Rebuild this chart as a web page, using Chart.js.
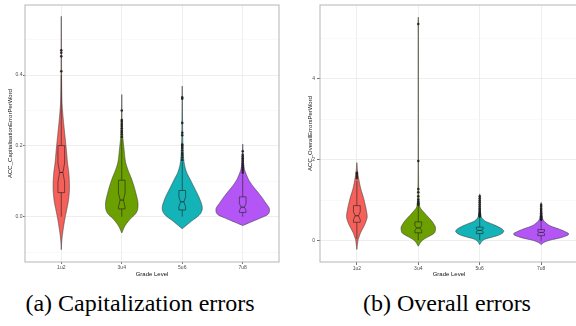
<!DOCTYPE html>
<html>
<head>
<meta charset="utf-8">
<script src="https://cdn.jsdelivr.net/npm/chart.js@4.4.1/dist/chart.umd.min.js"></script>
<style>
  html, body { margin: 0; padding: 0; background: #fff; }
  body { width: 576px; height: 326px; position: relative; overflow: hidden; }
  .panel { position: absolute; top: 0; height: 282px; overflow: hidden; }
  #wrapA { left: 0; width: 290px; }
  #wrapB { left: 290px; width: 286px; }
  .caption {
    position: absolute; top: 290px; white-space: nowrap;
    font-family: 'Liberation Serif', 'Times New Roman', Times, serif;
    font-size: 24px; color: #000; transform: translateX(-50%);
  }
</style>
</head>
<body>
<div class="panel" id="wrapA"><canvas id="capChart" width="290" height="282"></canvas></div>
<div class="panel" id="wrapB"><canvas id="allChart" width="300" height="282"></canvas></div>
<div class="caption" style="left:140px; font-family:'Liberation Serif', serif">(a) Capitalization errors</div>
<div class="caption" style="left:447px; font-family:'Liberation Serif', serif">(b) Overall errors</div>

<script>
// ---- shared ----
const grades = ['1u2', '3u4', '5u6', '7u8'];
const fillColours = ['#F5605A', '#6C9F00', '#13B3B7', '#B456F6'];

// ---- (a) capitalisation errors per word ----
// violin outline: value levels and half-widths (fraction of one category)
const capDensityY = [
  [0.566, 0.45, 0.33, 0.29, 0.237, 0.19, 0.15, 0.124, 0.085, 0.048, 0.02, 0.0, -0.037, -0.065, -0.093],
  [0.345, 0.27, 0.226, 0.19, 0.152, 0.13, 0.105, 0.068, 0.034, 0.011, -0.008, -0.027, -0.046],
  [0.369, 0.3, 0.2, 0.161, 0.14, 0.123, 0.105, 0.086, 0.048, 0.024, 0.006, -0.013, -0.027, -0.034],
  [0.205, 0.17, 0.133, 0.12, 0.105, 0.085, 0.067, 0.039, 0.02, 0.006, -0.004, -0.016, -0.025]
];
const capDensityW = [
  [0, 0.004, 0.01, 0.025, 0.055, 0.083, 0.104, 0.124, 0.135, 0.12, 0.09, 0.066, 0.03, 0.01, 0],
  [0, 0.006, 0.017, 0.038, 0.066, 0.107, 0.165, 0.231, 0.269, 0.24, 0.132, 0.05, 0],
  [0, 0.004, 0.012, 0.025, 0.046, 0.078, 0.132, 0.187, 0.294, 0.331, 0.289, 0.149, 0.05, 0],
  [0, 0.008, 0.03, 0.058, 0.096, 0.174, 0.261, 0.38, 0.443, 0.413, 0.289, 0.124, 0]
];
const capQ1 = [0.068, 0.022, 0.019, 0.012];
const capMedian = [0.125, 0.047, 0.042, 0.027];
const capQ3 = [0.201, 0.103, 0.074, 0.056];
const capWhiskerLow = [0.0, 0.0, 0.0, 0.0];
const capWhiskerHigh = [0.40, 0.22, 0.155, 0.12];
const capNotch = [0.027, 0.02, 0.014, 0.01];
const capOutliers = [
  [0.411, 0.453, 0.463, 0.47],
  [0.225, 0.232, 0.238, 0.243, 0.25, 0.256, 0.262, 0.268, 0.273, 0.30],
  [0.16, 0.167, 0.174, 0.18, 0.187, 0.194, 0.2, 0.204, 0.23, 0.237, 0.265, 0.333, 0.337],
  [0.124, 0.13, 0.135, 0.14, 0.145, 0.15, 0.155, 0.16, 0.165, 0.17, 0.175, 0.185]
];
const capTicks = [-0.1, 0.0, 0.1, 0.2, 0.3, 0.4, 0.5];

// ---- (b) overall errors per word ----
const allDensityY = [
  [1.93, 1.7, 1.51, 1.26, 1.1, 0.93, 0.75, 0.6, 0.5, 0.4, 0.3, 0.2, 0.1, 0.05, -0.08, -0.21],
  [5.52, 5.4, 5.3, 4.5, 3.0, 2.0, 1.3, 0.85, 0.69, 0.6, 0.52, 0.42, 0.32, 0.2, 0.13, 0.07, 0.0, -0.13],
  [1.16, 0.9, 0.6, 0.54, 0.48, 0.42, 0.36, 0.3, 0.24, 0.18, 0.13, 0.09, 0.05, 0.0, -0.09],
  [0.95, 0.7, 0.52, 0.44, 0.36, 0.3, 0.24, 0.17, 0.09, 0.01, -0.04, -0.09]
];
const allDensityW = [
  [0, 0.013, 0.033, 0.068, 0.101, 0.13, 0.155, 0.168, 0.153, 0.127, 0.094, 0.06, 0.036, 0.024, 0.01, 0],
  [0, 0.004, 0.003, 0.002, 0.002, 0.003, 0.006, 0.024, 0.101, 0.155, 0.204, 0.252, 0.28, 0.264, 0.195, 0.122, 0.057, 0],
  [0, 0.008, 0.024, 0.049, 0.098, 0.195, 0.285, 0.358, 0.391, 0.358, 0.285, 0.195, 0.098, 0.041, 0],
  [0, 0.01, 0.033, 0.081, 0.163, 0.277, 0.375, 0.448, 0.342, 0.122, 0.041, 0]
];
const allQ1 = [0.46, 0.20, 0.18, 0.13];
const allMedian = [0.62, 0.32, 0.26, 0.21];
const allQ3 = [0.87, 0.47, 0.34, 0.28];
const allWhiskerLow = [0.05, 0.02, 0.02, 0.0];
const allWhiskerHigh = [1.48, 0.86, 0.58, 0.50];
const allNotch = [0.1, 0.06, 0.03, 0.025];
const allOutliers = [
  [1.55, 1.6, 1.65, 1.68],
  [0.89, 0.93, 0.97, 1.02, 1.1, 1.2, 1.28, 1.97, 5.35],
  [0.6, 0.63, 0.66, 0.69, 0.72, 0.76, 0.8, 0.85, 0.9, 0.95, 1.0, 1.05, 1.1],
  [0.52, 0.55, 0.58, 0.61, 0.64, 0.68, 0.72, 0.76, 0.8, 0.85, 0.89]
];
const allTicks = [0, 1, 2, 3, 4, 5];

// ---- drawing helpers ----
// monotone cubic (Fritsch-Carlson) through (t, w) pairs, t increasing; returns sampled points
function monotoneSamples(t, w, step) {
  const n = t.length, m = [], d = [];
  for (let i = 0; i < n - 1; i++) d.push((w[i + 1] - w[i]) / (t[i + 1] - t[i]));
  m[0] = d[0]; m[n - 1] = d[n - 2];
  for (let i = 1; i < n - 1; i++) m[i] = (d[i - 1] * d[i] <= 0) ? 0 : (d[i - 1] + d[i]) / 2;
  for (let i = 0; i < n - 1; i++) {
    if (d[i] === 0) { m[i] = 0; m[i + 1] = 0; continue; }
    const a = m[i] / d[i], b = m[i + 1] / d[i], h = a * a + b * b;
    if (h > 9) { const s = 3 / Math.sqrt(h); m[i] = s * a * d[i]; m[i + 1] = s * b * d[i]; }
  }
  const out = [];
  for (let i = 0; i < n - 1; i++) {
    const h = t[i + 1] - t[i], k = Math.max(1, Math.ceil(h / step));
    for (let j = 0; j < k; j++) {
      const s = j / k, s2 = s * s, s3 = s2 * s;
      const val = (2 * s3 - 3 * s2 + 1) * w[i] + (s3 - 2 * s2 + s) * h * m[i] +
                  (-2 * s3 + 3 * s2) * w[i + 1] + (s3 - s2) * h * m[i + 1];
      out.push({ t: t[i] + s * h, w: Math.max(0, val) });
    }
  }
  out.push({ t: t[n - 1], w: w[n - 1] });
  return out;
}

const violinPlugin = {
  id: 'violins',
  beforeDatasetsDraw(chart) {
    const v = chart.options.plugins.violins;
    const xs = chart.scales.x, ys = chart.scales.y, ctx = chart.ctx, area = chart.chartArea;
    ctx.save();
    ctx.beginPath();
    ctx.rect(area.left, area.top, area.right - area.left, area.bottom - area.top);
    ctx.clip();
    v.densityY.forEach((levels, g) => {
      const c = g + 1, w = v.densityW[g];
      const cx = xs.getPixelForValue(c);
      const unit = xs.getPixelForValue(c + 1) - cx;
      const py = levels.map(lv => ys.getPixelForValue(lv));
      const pw = w.map(x => x * unit);
      const s = monotoneSamples(py, pw, 0.5);
      ctx.beginPath();
      s.forEach((p, i) => (i ? ctx.lineTo(cx - p.w, p.t) : ctx.moveTo(cx - p.w, p.t)));
      for (let i = s.length - 1; i >= 0; i--) ctx.lineTo(cx + s[i].w, s[i].t);
      ctx.closePath();
      ctx.fillStyle = fillColours[g];
      ctx.fill();
      ctx.lineWidth = 0.6;
      ctx.strokeStyle = '#3a3a3a';
      ctx.stroke();

      // box plot with notch
      const bw = 0.055;
      const X = (d) => xs.getPixelForValue(c + d), Y = (val) => ys.getPixelForValue(val);
      const q1 = v.q1[g], q3 = v.q3[g], med = v.median[g], nt = v.notch[g];
      ctx.strokeStyle = '#222';
      ctx.lineWidth = 0.6;
      ctx.beginPath();
      ctx.moveTo(X(0), Y(q3)); ctx.lineTo(X(0), Y(v.whiskerHigh[g]));
      ctx.moveTo(X(0), Y(q1)); ctx.lineTo(X(0), Y(v.whiskerLow[g]));
      ctx.stroke();
      ctx.beginPath();
      ctx.moveTo(X(-bw), Y(q3));
      ctx.lineTo(X(bw), Y(q3));
      ctx.lineTo(X(bw), Y(med + nt));
      ctx.lineTo(X(bw / 2), Y(med));
      ctx.lineTo(X(bw), Y(med - nt));
      ctx.lineTo(X(bw), Y(q1));
      ctx.lineTo(X(-bw), Y(q1));
      ctx.lineTo(X(-bw), Y(med - nt));
      ctx.lineTo(X(-bw / 2), Y(med));
      ctx.lineTo(X(-bw), Y(med + nt));
      ctx.closePath();
      ctx.stroke();
      ctx.beginPath();
      ctx.lineWidth = 0.9;
      ctx.moveTo(X(-bw / 2), Y(med)); ctx.lineTo(X(bw / 2), Y(med));
      ctx.stroke();
    });
    ctx.restore();
  },
  afterDraw(chart) {
    const a = chart.chartArea, ctx = chart.ctx;
    ctx.save();
    ctx.strokeStyle = '#b5b5b5';
    ctx.lineWidth = 1;
    ctx.strokeRect(a.left, a.top, a.right - a.left, a.bottom - a.top);
    ctx.restore();
  }
};

function makeChart(id, o) {
  const outlierPoints = [];
  o.outliers.forEach((list, g) => list.forEach(val => outlierPoints.push({ x: g + 1, y: val })));
  const isMajor = (val) => Math.abs(val / o.majorStep - Math.round(val / o.majorStep)) < 1e-6;
  return new Chart(document.getElementById(id), {
    type: 'scatter',
    data: {
      datasets: [{
        data: outlierPoints,
        pointRadius: 1.3,
        pointBackgroundColor: 'rgba(25,25,25,0.85)',
        pointBorderWidth: 0
      }]
    },
    options: {
      responsive: false,
      animation: false,
      events: [],
      layout: { padding: o.padding },
      plugins: {
        legend: { display: false },
        tooltip: { enabled: false },
        violins: {
          densityY: o.densityY, densityW: o.densityW,
          q1: o.q1, median: o.median, q3: o.q3, notch: o.notch,
          whiskerLow: o.whiskerLow, whiskerHigh: o.whiskerHigh
        }
      },
      scales: {
        x: {
          type: 'linear', min: 0.4, max: 4.6,
          afterBuildTicks: s => { s.ticks = grades.map((_, i) => ({ value: i + 1 })); },
          afterFit: s => { s.height = 18; },
          border: { display: false },
          grid: { color: '#e6e6e6', lineWidth: 0.7, tickLength: o.tickLen, tickColor: '#333' },
          ticks: {
            autoSkip: false, maxRotation: 0, padding: 0.5,
            font: { family: 'Liberation Sans', size: 5 }, color: '#4d4d4d',
            callback: val => grades[Math.round(val) - 1]
          },
          title: {
            display: true, text: 'Grade Level', color: '#111',
            font: { family: 'Liberation Sans', size: 6 },
            padding: { top: 0, bottom: 2.4 }
          }
        },
        y: {
          type: 'linear', min: o.yMin, max: o.yMax,
          afterBuildTicks: s => { s.ticks = o.ticks.map(t => ({ value: t })); },
          afterFit: s => { s.width = o.yAxisWidth; },
          border: { display: false },
          grid: {
            color: ctx => isMajor(ctx.tick.value) ? '#e6e6e6' : '#f3f3f3',
            lineWidth: ctx => isMajor(ctx.tick.value) ? 0.7 : 0.5,
            tickLength: o.tickLen,
            tickColor: ctx => isMajor(ctx.tick.value) ? '#333' : 'rgba(0,0,0,0)'
          },
          ticks: {
            padding: o.tickPad,
            font: { family: 'Liberation Sans', size: 5 }, color: '#4d4d4d',
            callback: val => isMajor(val) ? val.toFixed(o.decimals) : ''
          },
          title: {
            display: true, text: o.yTitle, color: '#111',
            font: { family: 'Liberation Sans', size: 6 },
            padding: { top: o.yTitlePad, bottom: 0 }
          }
        }
      }
    },
    plugins: [violinPlugin]
  });
}

makeChart('capChart', {
  densityY: capDensityY, densityW: capDensityW,
  q1: capQ1, median: capMedian, q3: capQ3, notch: capNotch,
  whiskerLow: capWhiskerLow, whiskerHigh: capWhiskerHigh,
  outliers: capOutliers, ticks: capTicks, majorStep: 0.2, decimals: 1,
  yMin: -0.128, yMax: 0.598, yTitle: 'ACC_CapitalisationErrorPerWord',
  padding: { left: 0, top: 5, right: 11, bottom: 2 },
  yAxisWidth: 25, yTitlePad: 7, tickLen: 2, tickPad: 0.5
});

makeChart('allChart', {
  densityY: allDensityY, densityW: allDensityW,
  q1: allQ1, median: allMedian, q3: allQ3, notch: allNotch,
  whiskerLow: allWhiskerLow, whiskerHigh: allWhiskerHigh,
  outliers: allOutliers, ticks: allTicks, majorStep: 2, decimals: 0,
  yMin: -0.52, yMax: 5.82, yTitle: 'ACC_OverallErrorsPerWord',
  padding: { left: 0, top: 5, right: 12, bottom: 2 },
  yAxisWidth: 30, yTitlePad: 16.4, tickLen: 3, tickPad: 2
});
</script>
</body>
</html>
